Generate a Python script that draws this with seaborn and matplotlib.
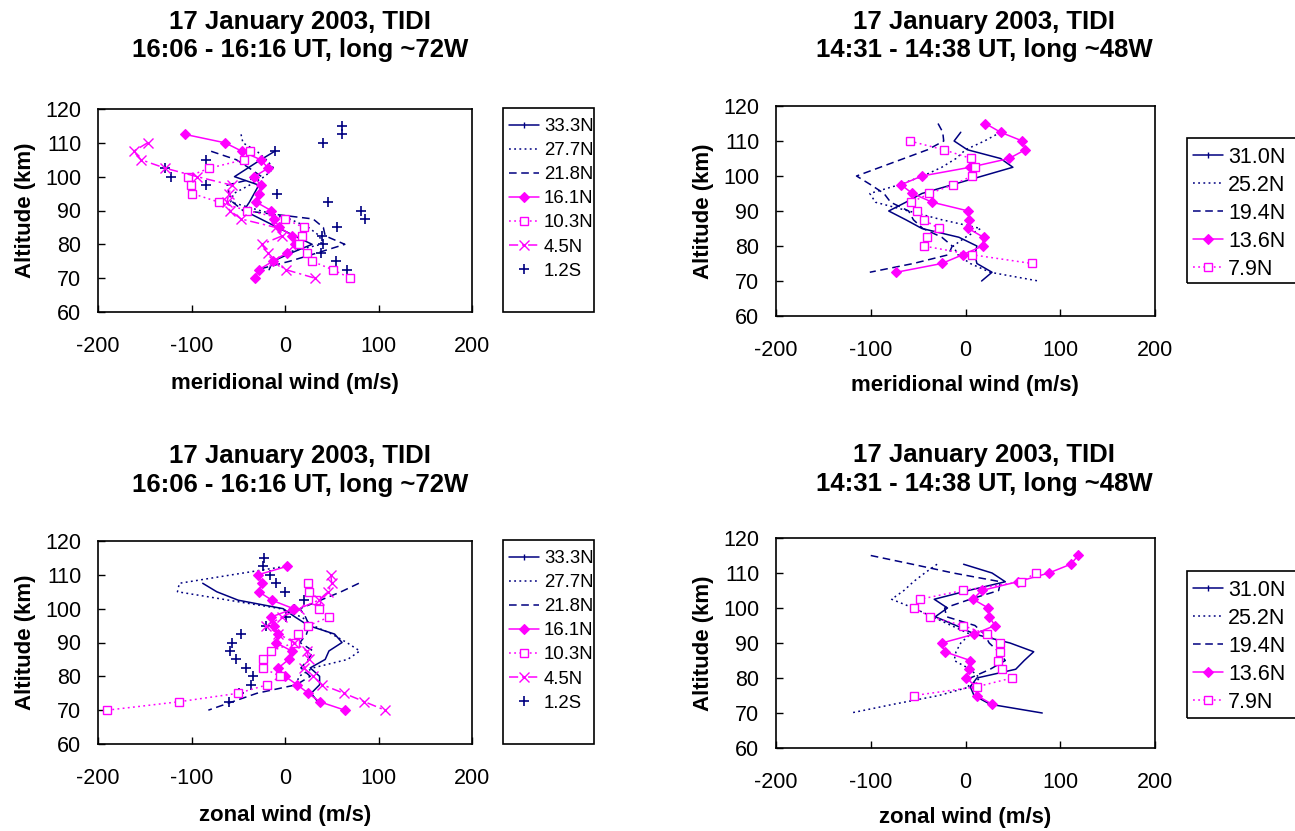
import matplotlib
matplotlib.use("Agg")
import matplotlib.pyplot as plt
import seaborn as sns
from matplotlib.lines import Line2D
from matplotlib.patches import Rectangle

sns.set_style("white")
plt.rcParams['font.family'] = ['Liberation Sans', 'DejaVu Sans']
plt.rcParams['axes.unicode_minus'] = False
plt.rcParams['text.color'] = 'black'
plt.rcParams['axes.labelcolor'] = 'black'
plt.rcParams['xtick.color'] = 'black'
plt.rcParams['ytick.color'] = 'black'

# ---------------- Panel 1: meridional wind, 16:06-16:16 UT, ~72W ----------------
m72_labels = ["33.3N", "27.7N", "21.8N", "16.1N", "10.3N", "4.5N", "1.2S"]
m72_alt_333 = [107.5, 105, 102.5, 100, 97.5, 95, 92.5, 90, 87.5, 85, 82.5, 80, 77.5, 75, 72.5]
m72_333 = [-11, -26, -40, -54, -28, -33, -38, -44, -26, -8, 10, 29, 7, -13, -17]
m72_alt_277 = [112.5, 110, 107.5, 105, 102.5, 100, 97.5, 95, 92.5, 90, 87.5, 85, 82.5, 80, 77.5]
m72_277 = [-47, -45, -30, -20, -12, -22, -38, -55, -58, -27, 5, 25, 37, 39, 0]
m72_alt_218 = [107.5, 105, 102.5, 100, 97.5, 95, 92.5, 90, 87.5, 85, 82.5, 80, 77.5, 75, 72.5]
m72_218 = [-79, -52, -38, -25, -62, -60, -56, -45, 30, 41, 43, 64, 35, 5, -30]
m72_alt_161 = [112.5, 110, 107.5, 105, 102.5, 100, 97.5, 95, 92.5, 90, 87.5, 85, 82.5, 80, 77.5, 75, 72.5, 70]
m72_161 = [-107, -64, -46, -26, -18, -33, -26, -28, -31, -15, -12, -6, 8, 11, 2, -13, -28, -32]
m72_alt_103 = [107.5, 105, 102.5, 100, 97.5, 95, 92.5, 90, 87.5, 85, 82.5, 80, 77.5, 75, 72.5, 70]
m72_103 = [-37, -44, -81, -104, -101, -99, -71, -41, 0, 20, 18, 15, 23, 29, 51, 70]
m72_alt_45 = [110, 107.5, 105, 102.5, 100, 97.5, 95, 92.5, 90, 87.5, 85, 82.5, 80, 77.5, 75, 72.5, 70]
m72_45 = [-147, -162, -154, -128, -94, -57, -60, -62, -59, -47, -10, -3, -25, -18, -12, 1, 32]
m72_alt_12S = [115, 112.5, 110, 107.5, 105, 102.5, 100, 97.5, 95, 92.5, 90, 87.5, 85, 82.5, 80, 77.5, 75, 72.5]
m72_12S = [61, 61, 41, -11, -85, -128, -122, -84, -9, 46, 81, 86, 56, 40, 41, 38, 55, 66]

# ---------------- Panel 2: meridional wind, 14:31-14:38 UT, ~48W ----------------
m48_labels = ["31.0N", "25.2N", "19.4N", "13.6N", "7.9N"]
m48_alt_310 = [112.5, 110, 107.5, 105, 102.5, 100, 97.5, 95, 92.5, 90, 87.5, 85, 82.5, 80, 77.5, 75, 72.5, 70]
m48_310 = [-5, -12, 2, 37, 50, 18, -14, -46, -63, -81, -63, -46, -7, 12, 10, 12, 28, 17]
m48_alt_252 = [112.5, 110, 107.5, 105, 102.5, 100, 97.5, 95, 92.5, 90, 87.5, 85, 82.5, 80, 77.5, 75, 72.5, 70]
m48_252 = [37, 20, 0, -10, -25, -45, -70, -101, -95, -60, -25, 16, 0, -13, -8, 5, 26, 77]
m48_alt_194 = [115, 112.5, 110, 107.5, 105, 102.5, 100, 97.5, 95, 92.5, 90, 87.5, 85, 82.5, 80, 77.5, 75, 72.5]
m48_194 = [-29, -24, -23, -40, -65, -90, -115, -100, -86, -79, -60, -55, -45, -25, -14, -18, -55, -101]
m48_alt_136 = [115, 112.5, 110, 107.5, 105, 102.5, 100, 97.5, 95, 92.5, 90, 87.5, 85, 82.5, 80, 77.5, 75, 72.5]
m48_136 = [21, 37, 60, 63, 46, 5, -46, -68, -56, -35, 3, 4, 3, 19, 18, -3, -25, -73]
m48_alt_79 = [110, 107.5, 105, 102.5, 100, 97.5, 95, 92.5, 90, 87.5, 85, 82.5, 80, 77.5, 75]
m48_79 = [-59, -23, 6, 10, 7, -13, -38, -57, -51, -44, -28, -41, -44, 7, 70]

# ---------------- Panel 3: zonal wind, 16:06-16:16 UT, ~72W ----------------
z72_alt_333 = [107.5, 105, 102.5, 100, 97.5, 95, 92.5, 90, 87.5, 85, 82.5, 80, 77.5, 75, 72.5]
z72_333 = [-88, -73, -50, -2, 11, 25, 53, 61, 47, 43, 27, 37, 37, 28, 35]
z72_alt_277 = [112.5, 110, 107.5, 105, 102.5, 100, 97.5, 95, 92.5, 90, 87.5, 85, 82.5, 80, 77.5]
z72_277 = [0, -57, -113, -115, -60, -5, 18, 30, 50, 66, 80, 67, 30, 15, 12]
z72_alt_218 = [107.5, 105, 102.5, 100, 97.5, 95, 92.5, 90, 87.5, 85, 82.5, 80, 77.5, 75, 72.5, 70]
z72_218 = [79, 60, 38, 16, 22, 26, 23, 16, 30, 25, 17, 27, 12, -30, -56, -82]
z72_alt_161 = [112.5, 110, 107.5, 105, 102.5, 100, 97.5, 95, 92.5, 90, 87.5, 85, 82.5, 80, 77.5, 75, 72.5, 70]
z72_161 = [2, -29, -25, -28, -14, 9, -15, -12, -7, -10, 7, 4, -7, 0, 13, 25, 37, 64]
z72_alt_103 = [107.5, 105, 102.5, 100, 97.5, 95, 92.5, 90, 87.5, 85, 82.5, 80, 77.5, 75, 72.5, 70]
z72_103 = [25, 26, 33, 36, 47, 25, 14, 11, -15, -23, -24, -5, -19, -50, -113, -190]
z72_alt_45 = [110, 107.5, 105, 102.5, 100, 97.5, 95, 92.5, 90, 87.5, 85, 82.5, 80, 77.5, 75, 72.5, 70]
z72_45 = [49, 50, 46, 36, 15, -3, -20, -7, 10, 23, 26, 20, 30, 40, 63, 85, 107]
z72_alt_12S = [115, 112.5, 110, 107.5, 105, 102.5, 100, 97.5, 95, 92.5, 90, 87.5, 85, 82.5, 80, 77.5, 75, 72.5]
z72_12S = [-22, -24, -16, -10, 0, 20, 10, 1, -20, -47, -57, -59, -52, -42, -34, -36, -49, -60]

# ---------------- Panel 4: zonal wind, 14:31-14:38 UT, ~48W ----------------
z48_alt_310 = [112.5, 110, 107.5, 105, 102.5, 100, 97.5, 95, 92.5, 90, 87.5, 85, 82.5, 80, 77.5, 75, 72.5, 70]
z48_310 = [-2, 28, 42, 3, -33, -19, -32, -10, 10, 47, 72, 62, 53, 12, 5, 9, 26, 81]
z48_alt_252 = [112.5, 110, 107.5, 105, 102.5, 100, 97.5, 95, 92.5, 90, 87.5, 85, 82.5, 80, 77.5, 75, 72.5, 70]
z48_252 = [-30, -43, -55, -65, -78, -55, -35, -15, 5, -5, -10, -12, 5, 15, 5, -28, -76, -121]
z48_alt_194 = [115, 112.5, 110, 107.5, 105, 102.5, 100, 97.5, 95, 92.5, 90, 87.5, 85, 82.5, 80, 77.5]
z48_194 = [-100, -56, -13, 37, 35, 5, -22, -20, 10, 20, 25, 35, 42, 26, 5, 3]
z48_alt_136 = [115, 112.5, 110, 107.5, 105, 102.5, 100, 97.5, 95, 92.5, 90, 87.5, 85, 82.5, 80, 77.5, 75, 72.5]
z48_136 = [119, 111, 88, 55, 17, 8, 24, 25, 31, 9, -25, -22, 5, 4, 1, 11, 12, 28]
z48_alt_79 = [110, 107.5, 105, 102.5, 100, 97.5, 95, 92.5, 90, 87.5, 85, 82.5, 80, 77.5, 75]
z48_79 = [74, 59, -3, -48, -54, -37, -3, 23, 36, 36, 34, 39, 49, 12, -54]

x_ticks = [-200, -100, 0, 100, 200]
y_ticks = [60, 70, 80, 90, 100, 110, 120]

NAVY = "#000080"
MAG = "#FF00FF"

STYLES = [
    dict(color=NAVY, linestyle="-", linewidth=1.1, marker=None),
    dict(color=NAVY, linestyle=(0, (1.2, 2.2)), linewidth=1.1, marker=None),
    dict(color=NAVY, linestyle=(0, (5, 3)), linewidth=1.1, marker=None),
    dict(color=MAG, linestyle="-", linewidth=1.1, marker="D", markersize=5,
         markerfacecolor=MAG, markeredgecolor=MAG, markeredgewidth=0.8),
    dict(color=MAG, linestyle=(0, (1.2, 2.2)), linewidth=1.1, marker="s", markersize=6,
         markerfacecolor="white", markeredgecolor=MAG, markeredgewidth=1.0),
    dict(color=MAG, linestyle=(0, (6, 2.5, 1.5, 2.5)), linewidth=1.1, marker="x", markersize=7,
         markerfacecolor=MAG, markeredgecolor=MAG, markeredgewidth=1.0),
]

W, H = 1295, 831
fig = plt.figure(figsize=(W / 100, H / 100), dpi=100)

TITLE_FS = 18.5
LABEL_FS = 16
TICK_FS = 15.5


def fx(px):
    return px / W


def fy(py):
    return 1 - py / H


def make_ax(left, top, right, bottom):
    ax = fig.add_axes([fx(left), fy(bottom), fx(right) - fx(left), fy(top) - fy(bottom)])
    ax.set_xlim(-200, 200)
    ax.set_ylim(60, 120)
    ax.set_xticks(x_ticks)
    ax.set_yticks(y_ticks)
    ax.set_xticklabels([str(v) for v in x_ticks])
    ax.set_yticklabels([str(v) for v in y_ticks])
    ax.tick_params(direction="in", length=5, width=1, colors="black", labelsize=TICK_FS,
                   left=True, bottom=True)
    ax.tick_params(axis="x", pad=17.5)
    ax.tick_params(axis="y", pad=12)
    for s in ax.spines.values():
        s.set_color("black")
        s.set_linewidth(1.2)
    ax.grid(False)
    ax.set_xlabel("")
    ax.set_ylabel("")
    return ax


def draw_series(ax, xs, ys, st, label):
    kw = {k: v for k, v in st.items() if v is not None}
    sns.lineplot(x=xs, y=ys, ax=ax, sort=False, estimator=None, label=label, legend=False, **kw)


def draw_plus(ax, xs, ys, label):
    sns.scatterplot(x=xs, y=ys, ax=ax, marker="+", color=NAVY, s=60, linewidth=1.2,
                    label=label, legend=False)


def legend_handles(labels, with_plus):
    hs = []
    for i, lab in enumerate(labels):
        if with_plus and i == len(labels) - 1:
            hs.append(Line2D([], [], linestyle="none", marker="+", color=NAVY,
                             markersize=7, markeredgewidth=1.2, label=lab))
        else:
            st = dict(STYLES[i])
            if i == 0:
                st["marker"] = "|"
                st["markersize"] = 4
                st["markeredgecolor"] = NAVY
            kw = {k: v for k, v in st.items() if v is not None}
            hs.append(Line2D([], [], label=lab, **kw))
    return hs


def add_legend(ax, labels, with_plus, box, first_top, left, fs, ls, hl, htp):
    x0, y0, x1, y1 = box
    fig.patches.append(Rectangle((fx(x0), fy(y1)), fx(x1) - fx(x0), fy(y0) - fy(y1),
                                 transform=fig.transFigure, fill=False,
                                 edgecolor="black", linewidth=1.2))
    hs = legend_handles(labels, with_plus)
    ax.legend(handles=hs, loc="upper left", bbox_to_anchor=(fx(left), fy(first_top)),
              bbox_transform=fig.transFigure, frameon=False, fontsize=fs,
              labelspacing=ls, handlelength=hl, handletextpad=htp, borderpad=0,
              borderaxespad=0)


def titles(cx, y1, y2, l2):
    fig.text(fx(cx), fy(y1), "17 January 2003, TIDI", ha="center", va="center",
             fontsize=TITLE_FS, fontweight="bold")
    fig.text(fx(cx), fy(y2), l2, ha="center", va="center", fontsize=TITLE_FS, fontweight="bold")


def xlab(cx, cy, s):
    fig.text(fx(cx), fy(cy), s, ha="center", va="center", fontsize=LABEL_FS, fontweight="bold")


def ylab(cx, cy):
    fig.text(fx(cx), fy(cy), "Altitude (km)", ha="center", va="center", rotation=90,
             fontsize=LABEL_FS, fontweight="bold")


# ---- Panel 1 ----
ax1 = make_ax(98, 109, 472, 312)
p1 = [(m72_333, m72_alt_333), (m72_277, m72_alt_277), (m72_218, m72_alt_218),
      (m72_161, m72_alt_161), (m72_103, m72_alt_103), (m72_45, m72_alt_45)]
for i, (xs, ys) in enumerate(p1):
    draw_series(ax1, xs, ys, STYLES[i], m72_labels[i])
draw_plus(ax1, m72_12S, m72_alt_12S, m72_labels[6])
add_legend(ax1, m72_labels, True, (503, 108, 594, 312), 118, 509, 13.4, 0.38, 1.6, 0.27)
titles(300, 22, 50, "16:06 - 16:16 UT, long ~72W")
xlab(285, 383, "meridional wind (m/s)")
ylab(25, 210)

# ---- Panel 2 ----
ax2 = make_ax(776, 106, 1155, 316)
p2 = [(m48_310, m48_alt_310), (m48_252, m48_alt_252), (m48_194, m48_alt_194),
      (m48_136, m48_alt_136), (m48_79, m48_alt_79)]
for i, (xs, ys) in enumerate(p2):
    draw_series(ax2, xs, ys, STYLES[i], m48_labels[i])
add_legend(ax2, m48_labels, False, (1187, 138, 1300, 283), 147, 1193, 15.5, 0.32, 1.4, 0.23)
titles(984, 22, 50, "14:31 - 14:38 UT, long ~48W")
xlab(965, 385, "meridional wind (m/s)")
ylab(703, 211)

# ---- Panel 3 ----
ax3 = make_ax(98, 541, 472, 744)
p3 = [(z72_333, z72_alt_333), (z72_277, z72_alt_277), (z72_218, z72_alt_218),
      (z72_161, z72_alt_161), (z72_103, z72_alt_103), (z72_45, z72_alt_45)]
for i, (xs, ys) in enumerate(p3):
    draw_series(ax3, xs, ys, STYLES[i], m72_labels[i])
draw_plus(ax3, z72_12S, z72_alt_12S, m72_labels[6])
add_legend(ax3, m72_labels, True, (503, 540, 594, 744), 550, 509, 13.4, 0.38, 1.6, 0.27)
titles(300, 456, 485, "16:06 - 16:16 UT, long ~72W")
xlab(285, 815, "zonal wind (m/s)")
ylab(25, 642)

# ---- Panel 4 ----
ax4 = make_ax(776, 538, 1155, 748)
p4 = [(z48_310, z48_alt_310), (z48_252, z48_alt_252), (z48_194, z48_alt_194),
      (z48_136, z48_alt_136), (z48_79, z48_alt_79)]
for i, (xs, ys) in enumerate(p4):
    draw_series(ax4, xs, ys, STYLES[i], m48_labels[i])
add_legend(ax4, m48_labels, False, (1187, 571, 1300, 718), 580, 1193, 15.5, 0.32, 1.4, 0.23)
titles(984, 455, 484, "14:31 - 14:38 UT, long ~48W")
xlab(965, 818, "zonal wind (m/s)")
ylab(703, 643)

fig.savefig("out.png", dpi=100, facecolor="white")
